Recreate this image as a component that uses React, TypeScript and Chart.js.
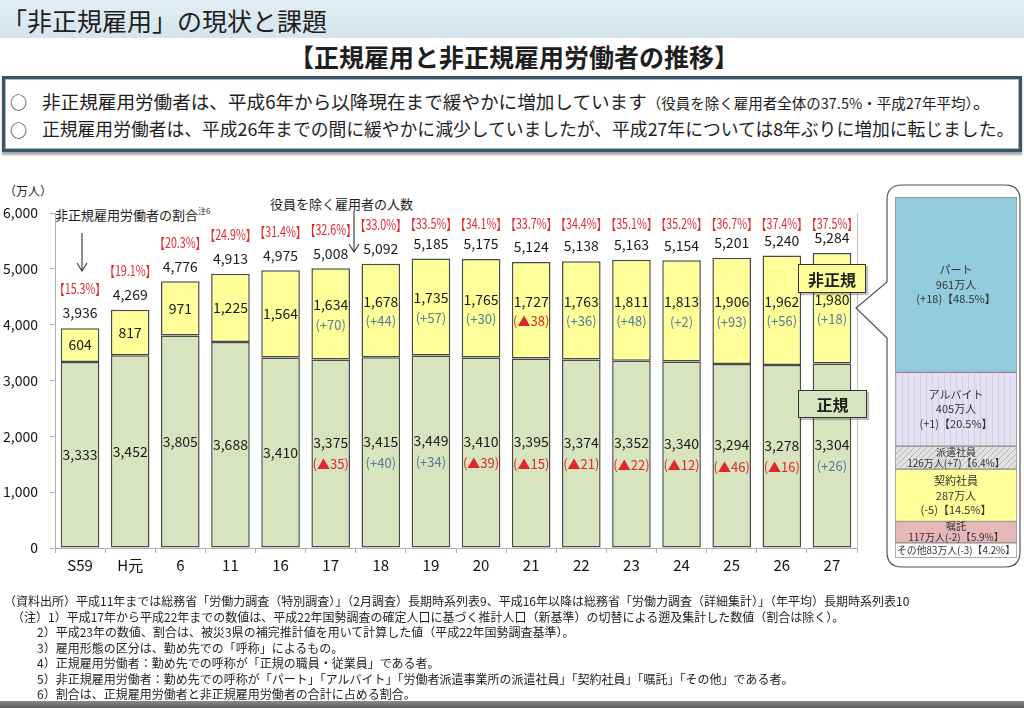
import React, { useEffect, useRef } from "react";
import { Chart, registerables } from "chart.js";
Chart.register(...registerables);

// ---------- data ----------
const categories = ["S59", "H元", "6", "11", "16", "17", "18", "19", "20", "21", "22", "23", "24", "25", "26", "27"];
const regular = [3333, 3452, 3805, 3688, 3410, 3375, 3415, 3449, 3410, 3395, 3374, 3352, 3340, 3294, 3278, 3304];
const nonRegular = [604, 817, 971, 1225, 1564, 1634, 1678, 1735, 1765, 1727, 1763, 1811, 1813, 1906, 1962, 1980];
const totals = [3936, 4269, 4776, 4913, 4975, 5008, 5092, 5185, 5175, 5124, 5138, 5163, 5154, 5201, 5240, 5284];
const nonRegularRatio = [15.3, 19.1, 20.3, 24.9, 31.4, 32.6, 33.0, 33.5, 34.1, 33.7, 34.4, 35.1, 35.2, 36.7, 37.4, 37.5];
const regularChange: (number | null)[] = [null, null, null, null, null, -35, 40, 34, -39, -15, -21, -22, -12, -46, -16, 26];
const nonRegularChange: (number | null)[] = [null, null, null, null, null, 70, 44, 57, 30, -38, 36, 48, 2, 93, 56, 18];
const yMin = 0;
const yMax = 6000;
const yStep = 1000;

const breakdownNames = ["パート", "アルバイト", "派遣社員", "契約社員", "嘱託", "その他"];
const breakdownValues = [961, 405, 126, 287, 117, 83];
const breakdownChange = [18, 1, 7, -5, -2, -3];
const breakdownShare = [48.5, 20.5, 6.4, 14.5, 5.9, 4.2];

const footnotes = [
  "（資料出所）平成11年までは総務省「労働力調査（特別調査）」（2月調査）長期時系列表9、平成16年以降は総務省「労働力調査（詳細集計）」（年平均）長期時系列表10",
  "（注）1）平成17年から平成22年までの数値は、平成22年国勢調査の確定人口に基づく推計人口（新基準）の切替による遡及集計した数値（割合は除く）。",
  "2）平成23年の数値、割合は、被災3県の補完推計値を用いて計算した値（平成22年国勢調査基準）。",
  "3）雇用形態の区分は、勤め先での「呼称」によるもの。",
  "4）正規雇用労働者：勤め先での呼称が「正規の職員・従業員」である者。",
  "5）非正規雇用労働者：勤め先での呼称が「パート」「アルバイト」「労働者派遣事業所の派遣社員」「契約社員」「嘱託」「その他」である者。",
  "6）割合は、正規雇用労働者と非正規雇用労働者の合計に占める割合。",
];

// ---------- style ----------
const FONT = '"Noto Sans CJK JP", "Noto Sans", sans-serif';
const RED = "#e3262a";
const BLUE = "#4f7f9c";
const GREEN = "#d7e4bd";
const YELLOW = "#ffff99";

const fmt = (v: number) => v.toLocaleString("en-US");
const changeText = (v: number) => (v < 0 ? `(▲${-v})` : `(+${v})`);

function makePattern(bg: string, line: string, kind: "v" | "d") {
  const c = document.createElement("canvas");
  c.width = 6;
  c.height = 6;
  const g = c.getContext("2d")!;
  g.fillStyle = bg;
  g.fillRect(0, 0, 6, 6);
  g.strokeStyle = line;
  g.lineWidth = 1;
  g.beginPath();
  if (kind === "v") {
    g.moveTo(1.5, 0);
    g.lineTo(1.5, 6);
  } else {
    g.moveTo(0, 6);
    g.lineTo(6, 0);
    g.moveTo(-1, 1);
    g.lineTo(1, -1);
    g.moveTo(5, 7);
    g.lineTo(7, 5);
  }
  g.stroke();
  return g.createPattern(c, "repeat")!;
}

const mainLabels = {
  id: "mainLabels",
  afterDatasetsDraw(chart: any) {
    const { ctx, chartArea, scales } = chart;
    const m0 = chart.getDatasetMeta(0);
    const m1 = chart.getDatasetMeta(1);
    ctx.save();
    ctx.strokeStyle = "#c4c4c4";
    ctx.lineWidth = 1;
    ctx.beginPath();
    ctx.moveTo(chartArea.right + 0.5, chartArea.top);
    ctx.lineTo(chartArea.right + 0.5, chartArea.bottom);
    ctx.stroke();
    ctx.textAlign = "center";
    ctx.textBaseline = "middle";
    const capY = scales.y.getPixelForValue(5800);
    categories.forEach((_, i) => {
      const r = m0.data[i];
      const n = m1.data[i];
      const x = r.x;
      const rMid = (r.y + r.base) / 2;
      const nMid = (n.y + n.base) / 2;
      const rc = regularChange[i];
      const nc = nonRegularChange[i];
      ctx.fillStyle = "#1a1a1a";
      ctx.font = `14px ${FONT}`;
      ctx.fillText(fmt(regular[i]), x, rc == null ? rMid : rMid - 11);
      ctx.fillText(fmt(nonRegular[i]), x, nc == null ? nMid : nMid - 9);
      ctx.fillText(fmt(totals[i]), x, n.y - 15);
      ctx.font = `13px ${FONT}`;
      if (rc != null) {
        ctx.fillStyle = rc < 0 ? RED : BLUE;
        ctx.fillText(changeText(rc), x, rMid + 11);
      }
      if (nc != null) {
        ctx.fillStyle = nc < 0 ? RED : BLUE;
        ctx.fillText(changeText(nc), x, nMid + 11);
      }
      ctx.fillStyle = RED;
      ctx.font = `14px ${FONT}`;
      ctx.fillText(`【${nonRegularRatio[i].toFixed(1)}%】`, x, Math.max(n.y - 39, capY), 52);
    });
    ctx.restore();
  },
};

const subLabels = {
  id: "subLabels",
  afterDatasetsDraw(chart: any) {
    const { ctx } = chart;
    ctx.save();
    ctx.textAlign = "center";
    ctx.textBaseline = "middle";
    ctx.fillStyle = "#333";
    breakdownNames.forEach((name, k) => {
      const dsIndex = breakdownNames.length - 1 - k;
      const el = chart.getDatasetMeta(dsIndex).data[0];
      const top = Math.min(el.y, el.base);
      const bottom = Math.max(el.y, el.base);
      const h = bottom - top;
      const mid = (top + bottom) / 2;
      const x = el.x;
      const c = breakdownChange[k];
      const ch = c < 0 ? `(-${-c})` : `(+${c})`;
      const share = `【${breakdownShare[k].toFixed(1)}%】`;
      const amount = `${breakdownValues[k]}万人`;
      let lines: string[];
      if (h > 40) lines = [name, amount, ch + share];
      else if (h > 18) lines = [name, amount + ch + share];
      else lines = [name + amount + ch + share];
      const gap = lines.length === 3 ? 14.5 : 11;
      ctx.font = `${lines.length === 3 ? 11 : 10}px ${FONT}`;
      lines.forEach((t, j) => {
        ctx.fillText(t, x, mid + (j - (lines.length - 1) / 2) * gap, 118);
      });
    });
    ctx.restore();
  },
};

function Txt(props: { x: number; y: number; size: number; children: React.ReactNode; bold?: boolean; color?: string; center?: boolean }) {
  const { x, y, size, bold, color, center } = props;
  return (
    <div
      style={{
        position: "absolute",
        left: x,
        top: y,
        fontSize: size,
        lineHeight: 1,
        whiteSpace: "nowrap",
        fontWeight: bold ? 700 : 400,
        color: color || "#1e1e1e",
        transform: center ? "translate(-50%, -50%)" : "translateY(-50%)",
      }}
    >
      {props.children}
    </div>
  );
}

export default function App() {
  const mainRef = useRef<HTMLCanvasElement>(null);
  const subRef = useRef<HTMLCanvasElement>(null);

  useEffect(() => {
    const charts: Chart[] = [];
    if (mainRef.current) {
      charts.push(
        new Chart(mainRef.current, {
          type: "bar",
          data: {
            labels: categories,
            datasets: [
              {
                label: "正規",
                data: regular,
                backgroundColor: GREEN,
                borderColor: "#4a4a4a",
                borderWidth: 1.5,
                borderSkipped: false,
                barPercentage: 0.77,
                categoryPercentage: 1,
              },
              {
                label: "非正規",
                data: nonRegular,
                backgroundColor: YELLOW,
                borderColor: "#4a4a4a",
                borderWidth: 1.5,
                borderSkipped: false,
                barPercentage: 0.77,
                categoryPercentage: 1,
              },
            ],
          },
          options: {
            animation: false,
            responsive: false,
            maintainAspectRatio: false,
            layout: { padding: { top: 33, right: 13, left: 0, bottom: 0 } },
            plugins: { legend: { display: false }, tooltip: { enabled: false } },
            scales: {
              x: {
                stacked: true,
                grid: { display: true, drawOnChartArea: false, offset: true, tickLength: 5, color: "#b0b0b0" },
                border: { color: "#b0b0b0" },
                ticks: { color: "#111", font: { size: 15, family: FONT }, padding: 3 },
                afterFit: (s: any) => {
                  s.height = 32;
                },
              },
              y: {
                stacked: true,
                min: yMin,
                max: yMax,
                grid: { drawOnChartArea: false, tickLength: 5, color: "#b0b0b0" },
                border: { color: "#b0b0b0" },
                ticks: {
                  stepSize: yStep,
                  color: "#111",
                  font: { size: 14, family: FONT },
                  padding: 12,
                  callback: (v: any) => fmt(Number(v)),
                },
                afterFit: (s: any) => {
                  s.width = 55;
                },
              },
            },
          },
          plugins: [mainLabels],
        } as any)
      );
    }
    if (subRef.current) {
      const fills: (string | CanvasPattern)[] = [
        "#93cddd",
        makePattern("#e6e1f0", "#d6cde8", "v"),
        makePattern("#e2e2e2", "#b5b5b5", "d"),
        "#ffff99",
        "#e6b9b8",
        "#ffffff",
      ];
      const total = breakdownValues.reduce((a, b) => a + b, 0);
      const datasets = breakdownNames
        .map((name, k) => ({
          label: name,
          data: [breakdownValues[k]],
          backgroundColor: fills[k],
          borderColor: "#8c8c8c",
          borderWidth: 1,
          borderSkipped: false,
          barPercentage: 1,
          categoryPercentage: 1,
        }))
        .reverse();
      charts.push(
        new Chart(subRef.current, {
          type: "bar",
          data: { labels: ["27"], datasets },
          options: {
            animation: false,
            responsive: false,
            maintainAspectRatio: false,
            layout: { padding: 0 },
            plugins: { legend: { display: false }, tooltip: { enabled: false } },
            scales: {
              x: { stacked: true, display: false },
              y: { stacked: true, display: false, min: 0, max: total },
            },
          },
          plugins: [subLabels],
        } as any)
      );
    }
    return () => charts.forEach((c) => c.destroy());
  }, []);

  return (
    <div
      style={{
        position: "fixed",
        left: 0,
        top: 0,
        width: 1024,
        height: 708,
        background: "#fff",
        overflow: "hidden",
        fontFamily: FONT,
        color: "#1e1e1e",
      }}
    >
      {/* header band */}
      <div style={{ position: "absolute", left: 0, top: 0, width: 1024, height: 38, background: "linear-gradient(#e3eef4, #d4e5ee)" }} />
      <Txt x={2} y={20} size={25}>「非正規雇用」の現状と課題</Txt>
      <Txt x={514} y={56} size={25} bold center>【正規雇用と非正規雇用労働者の推移】</Txt>

      {/* summary box */}
      <div
        style={{
          position: "absolute",
          left: 2,
          top: 76,
          width: 1020,
          height: 76,
          boxSizing: "border-box",
          border: "3px solid #3a5566",
          boxShadow: "inset 0 0 0 1px #a3b5c0, 0 3px 2px #a8a8a8",
          background: "#fff",
        }}
      />
      <Txt x={10} y={101} size={17}>○</Txt>
      <Txt x={42} y={101} size={18.6}>
        非正規雇用労働者は、平成6年から以降現在まで緩やかに増加しています<span style={{ fontSize: 14.5 }}>（役員を除く雇用者全体の37.5%・平成27年平均）</span>。
      </Txt>
      <Txt x={10} y={129} size={17}>○</Txt>
      <Txt x={42} y={129} size={17.8}>正規雇用労働者は、平成26年までの間に緩やかに減少していましたが、平成27年については8年ぶりに増加に転じました。</Txt>

      {/* chart annotations */}
      <Txt x={4} y={191} size={12}>（万人）</Txt>
      <Txt x={55} y={214} size={13}>
        非正規雇用労働者の割合<span style={{ fontSize: 8, verticalAlign: "6px" }}>注6</span>
      </Txt>
      <Txt x={270} y={203} size={13}>役員を除く雇用者の人数</Txt>

      <canvas ref={mainRef} width={870} height={400} style={{ position: "absolute", left: 0, top: 180 }} />
      <canvas ref={subRef} width={122} height={361} style={{ position: "absolute", left: 895, top: 197 }} />

      <svg width={1024} height={708} style={{ position: "absolute", left: 0, top: 0, pointerEvents: "none" }}>
        <g stroke="#333" strokeWidth={1.1} fill="none">
          <line x1={82} y1={233} x2={82} y2={271} />
          <polyline points="77,263 82,271 87,263" />
          <line x1={354} y1={211} x2={354} y2={252} />
          <polyline points="349,244 354,252 359,244" />
        </g>
        <path
          d="M902,185 L1005,185 Q1020,185 1020,200 L1020,552 Q1020,567 1005,567 L902,567 Q887,567 887,552 L887,338 L856,308 L887,282 L887,200 Q887,185 902,185 Z"
          stroke="#555"
          strokeWidth={1.2}
          fill="none"
        />
      </svg>

      {/* series tags */}
      <div
        style={{
          position: "absolute",
          left: 798,
          top: 264,
          width: 68,
          height: 29,
          boxSizing: "border-box",
          border: "1.5px solid #333",
          background: YELLOW,
          boxShadow: "2px 2px 1px rgba(0,0,0,0.25)",
          display: "flex",
          alignItems: "center",
          justifyContent: "center",
          fontSize: 16,
          fontWeight: 700,
        }}
      >
        非正規
      </div>
      <div
        style={{
          position: "absolute",
          left: 798,
          top: 390,
          width: 69,
          height: 28,
          boxSizing: "border-box",
          border: "1.5px solid #333",
          background: GREEN,
          boxShadow: "2px 2px 1px rgba(0,0,0,0.25)",
          display: "flex",
          alignItems: "center",
          justifyContent: "center",
          fontSize: 16,
          fontWeight: 700,
        }}
      >
        正規
      </div>

      {/* footnotes */}
      {footnotes.map((t, i) => (
        <Txt key={i} x={i === 0 ? 4 : i === 1 ? 12 : 37} y={601 + i * 15.5} size={12}>
          {t}
        </Txt>
      ))}
      <div style={{ position: "absolute", left: 0, top: 701, width: 1024, height: 7, background: "linear-gradient(#8a8a8a, #5a5a5a)" }} />
    </div>
  );
}
